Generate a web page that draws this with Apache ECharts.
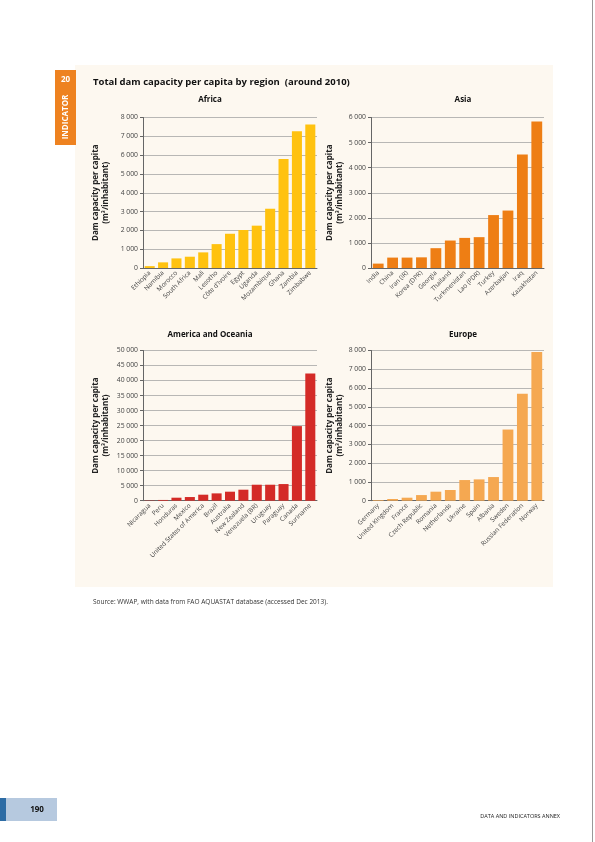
<!DOCTYPE html>
<html><head><meta charset="utf-8">
<script src="https://cdn.jsdelivr.net/npm/echarts@6/dist/echarts.min.js"></script>
<style>html,body{margin:0;padding:0;background:#fff}#c{width:595px;height:842px}</style>
</head><body><div id="c"></div>
<script>
const africaCats = ['Ethiopia','Namibia','Morocco','South Africa','Mali','Lesotho',"Côte d'Ivoire",'Egypt','Uganda','Mozambique','Ghana','Zambia','Zimbabwe'];
const africaVals = [100,300,510,600,830,1270,1820,2020,2250,3150,5790,7270,7630];
const asiaCats = ['India','China','Iran (IR)','Korea (DPR)','Georgia','Thailand','Turkmenistan','Lao (PDR)','Turkey','Azerbaijan','Iraq','Kazakhstan'];
const asiaVals = [175,415,415,425,790,1095,1200,1230,2110,2290,4520,5840];
const amerCats = ['Nicaragua','Peru','Honduras','Mexico','United States of America','Brazil','Australia','New Zealand','Venezuela (BR)','Uruguay','Paraguay','Canada','Suriname'];
const amerVals = [100,250,1000,1220,2000,2440,3000,3660,5320,5320,5540,24830,42350];
const euroCats = ['Germany','United Kingdom','France','Czech Republic','Romania','Netherlands','Ukraine','Spain','Albania','Sweden','Russian Federation','Norway'];
const euroVals = [35,90,160,300,480,570,1100,1135,1260,3790,5690,7925];
const yMax = [8000,6000,50000,8000];
const yStep = [1000,1000,5000,1000];

const FONT = "'Open Sans', 'Noto Sans', sans-serif";
const fmt = v => String(v).replace(/\B(?=(\d{3})+(?!\d))/g,' ');
const grids = [
  {left:143,right:278,top:117.5,bottom:574},
  {left:371,right:51,top:117.5,bottom:574},
  {left:143,right:278,top:350.5,bottom:341.3},
  {left:371,right:51,top:350.5,bottom:341.3}
];
const cats=[africaCats,asiaCats,amerCats,euroCats];
const vals=[africaVals,asiaVals,amerVals,euroVals];
const colors=['#FFC20F','#EE7E14','#D42B27','#F5A851'];
const chart = echarts.init(document.getElementById('c'),null,{renderer:'canvas'});
const xAxis = cats.map((c,i)=>({type:'category',gridIndex:i,data:c,
  axisLine:{lineStyle:{color:'#666',width:1}},axisTick:{show:false},
  axisLabel:{rotate:45,fontSize:6.4,color:'#444',fontFamily:FONT,margin:4,interval:0}}));
const yAxis = cats.map((c,i)=>({type:'value',gridIndex:i,min:0,max:yMax[i],interval:yStep[i],
  name:'Dam capacity per capita\n(m³/inhabitant)',nameLocation:'middle',nameGap:i%2===0?32:25,
  nameTextStyle:{fontSize:8,fontWeight:'bold',color:'#222',fontFamily:FONT,lineHeight:10},
  axisLine:{show:true,lineStyle:{color:'#666',width:1}},
  axisTick:{show:true,length:3,lineStyle:{color:'#666'}},
  splitLine:{lineStyle:{color:'#a6a6a6',width:0.8}},
  axisLabel:{fontSize:6.8,color:'#444',fontFamily:FONT,margin:5,formatter:fmt}}));
const series = vals.map((v,i)=>({type:'bar',xAxisIndex:i,yAxisIndex:i,data:v,barCategoryGap:'25%',
  itemStyle:{color:colors[i]},silent:true,animation:false}));
const titles = [
  {text:'Total dam capacity per capita by region  (around 2010)',left:88,top:72,textStyle:{fontSize:9.5,fontWeight:'bold',color:'#111',fontFamily:FONT}},
  {text:'Africa',left:205,top:91,textAlign:'center',textStyle:{fontSize:8,fontWeight:'bold',color:'#111',fontFamily:FONT}},
  {text:'Asia',left:458,top:91,textAlign:'center',textStyle:{fontSize:8,fontWeight:'bold',color:'#111',fontFamily:FONT}},
  {text:'America and Oceania',left:205,top:326,textAlign:'center',textStyle:{fontSize:8,fontWeight:'bold',color:'#111',fontFamily:FONT}},
  {text:'Europe',left:458,top:326,textAlign:'center',textStyle:{fontSize:8,fontWeight:'bold',color:'#111',fontFamily:FONT}},
  {text:'Source: WWAP, with data from FAO AQUASTAT database (accessed Dec 2013).',left:88,top:594,textStyle:{fontSize:6.5,fontWeight:'normal',color:'#333',fontFamily:FONT}},
  {text:'DATA AND INDICATORS ANNEX',left:555,top:808,textAlign:'right',textStyle:{fontSize:5.5,fontWeight:'normal',color:'#222',fontFamily:FONT}}
];
chart.setOption({
  animation:false,
  backgroundColor:'#ffffff',
  title:titles,
  grid:grids,
  xAxis:xAxis,yAxis:yAxis,series:series,
  graphic:[
    {type:'rect',z:-10,shape:{x:75,y:65,width:478,height:522},style:{fill:'#FDF8F0'}},
    {type:'rect',z:-5,shape:{x:55,y:70,width:21,height:75},style:{fill:'#EE8220'}},
    {type:'text',z:1,x:65.5,y:80,style:{text:'20',fill:'#fff',font:'bold 8px '+FONT,textAlign:'center',textVerticalAlign:'middle'}},
    {type:'text',z:1,x:65.5,y:117,rotation:Math.PI/2,style:{text:'INDICATOR',fill:'#fff',font:'bold 8px '+FONT,textAlign:'center',textVerticalAlign:'middle'}},
    {type:'rect',z:-5,shape:{x:0,y:798,width:6,height:23},style:{fill:'#2D6CA5'}},
    {type:'rect',z:-5,shape:{x:6,y:798,width:51,height:23},style:{fill:'#B6C9DF'}},
    {type:'text',z:1,x:37,y:810,style:{text:'190',fill:'#111',font:'bold 8px '+FONT,textAlign:'center',textVerticalAlign:'middle'}},
    {type:'rect',z:-5,shape:{x:592,y:0,width:1,height:842},style:{fill:'#999'}}
  ]
});
</script></body></html>
